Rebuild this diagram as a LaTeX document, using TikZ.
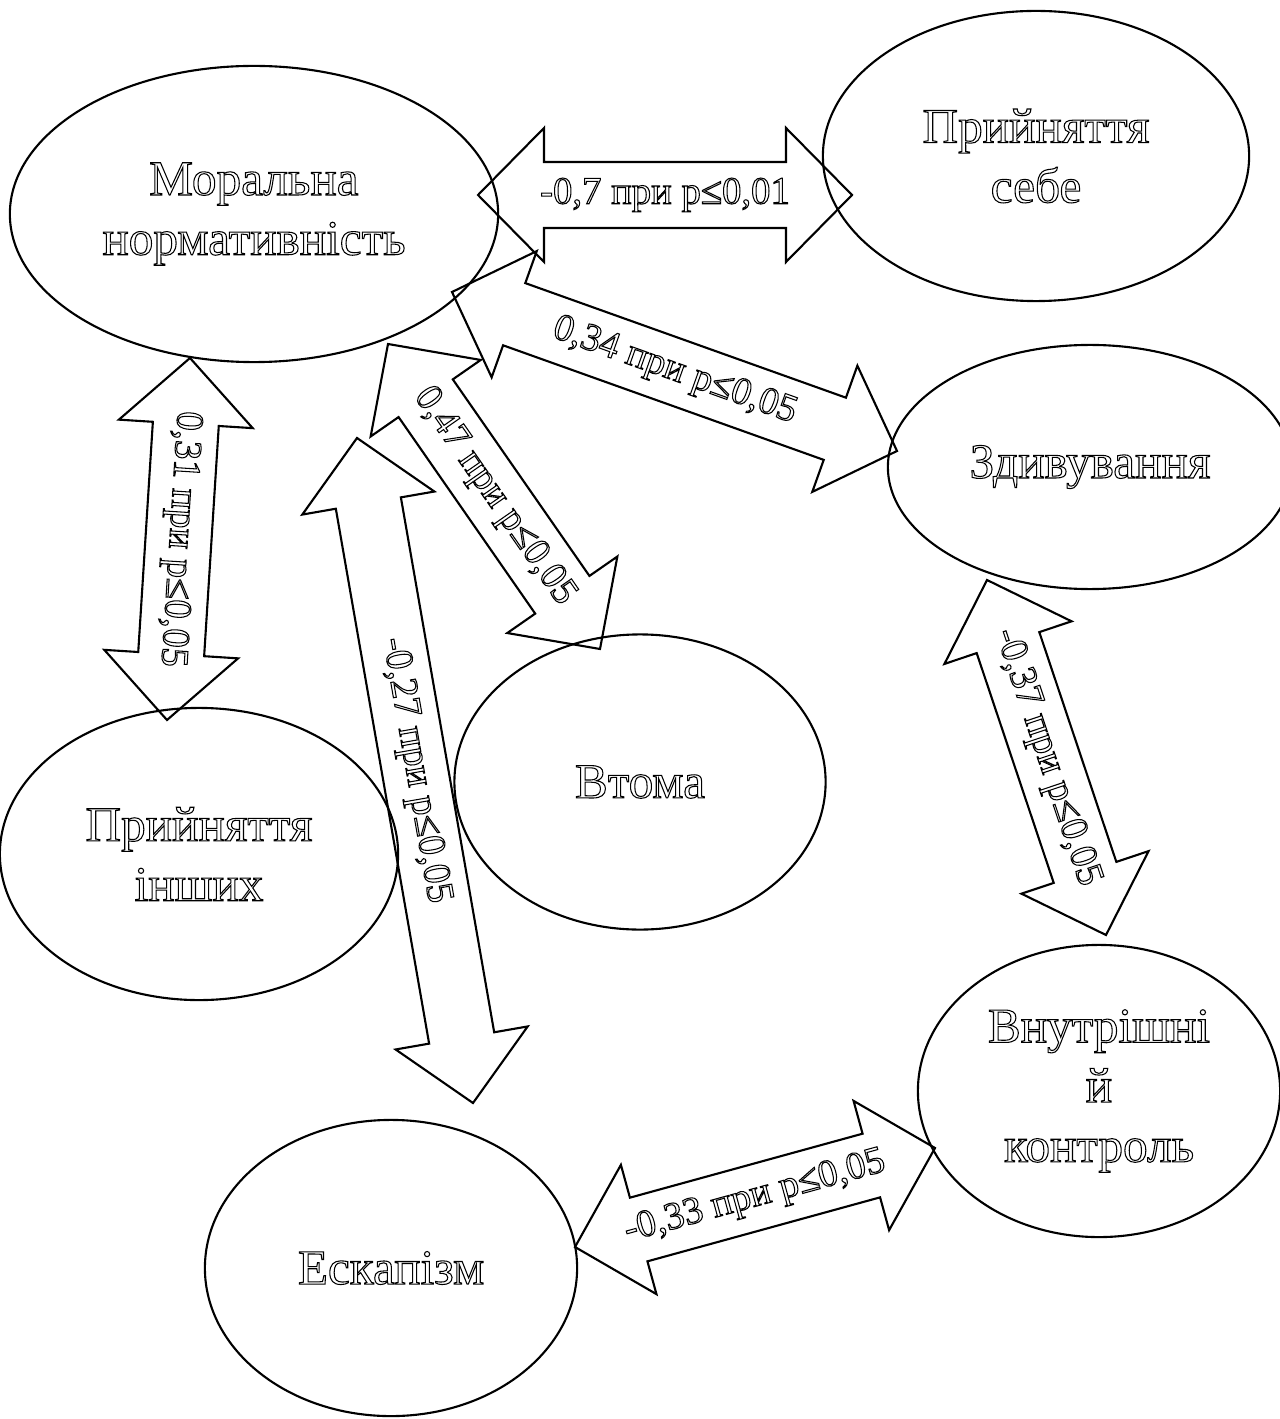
\documentclass[tikz,border=0pt]{standalone}
\usepackage{fontspec}
\setmainfont{Liberation Serif}
\usetikzlibrary{shapes.geometric, calc}

\newcommand\arrHead{0.66cm}
\newcommand\arrHalfHead{0.67cm}
\newcommand\arrHalfShaft{0.33cm}
\newcommand\corrarrow[3]{%
  \draw[blockarrow] (#1)
    -- ($(#1)!\arrHead!(#2)!\arrHalfHead!90:(#2)$)
    -- ($(#1)!\arrHead!(#2)!\arrHalfShaft!90:(#2)$)
    -- ($(#2)!\arrHead!(#1)!\arrHalfShaft!-90:(#1)$)
    -- ($(#2)!\arrHead!(#1)!\arrHalfHead!-90:(#1)$)
    -- (#2)
    -- ($(#2)!\arrHead!(#1)!\arrHalfHead!90:(#1)$)
    -- ($(#2)!\arrHead!(#1)!\arrHalfShaft!90:(#1)$)
    -- ($(#1)!\arrHead!(#2)!\arrHalfShaft!-90:(#2)$)
    -- ($(#1)!\arrHead!(#2)!\arrHalfHead!-90:(#2)$)
    -- cycle;
  \path (#1) -- node[corrlabel] {#3} (#2);
}

\begin{document}
\begin{tikzpicture}[
  x=0.01cm, y=-0.01cm,
  hollow/.style={execute at begin node={\special{pdf:literal direct 1 Tr 0.3 w}},
                 execute at end node={\special{pdf:literal direct 0 Tr}}},
  ell/.style={draw, ellipse, line width=0.6pt, inner sep=0pt, align=center,
              font=\fontsize{14}{17}\selectfont, hollow},
  blockarrow/.style={draw, line width=0.6pt, line join=miter},
  corrlabel/.style={sloped, allow upside down, inner sep=0pt,
                    font=\fontsize{11}{13}\selectfont, hollow}
]
\useasboundingbox (0,0) rectangle (1280,1419);

\node[ell, minimum width=4.88cm, minimum height=2.96cm] (moral) at (254,214) {Моральна\\нормативність};
\node[ell, minimum width=4.26cm, minimum height=2.90cm] (selfacc) at (1036,156) {Прийняття\\себе};
\node[ell, minimum width=4.04cm, minimum height=2.44cm] (surprise) at (1090,467) {Здивування};
\node[ell, minimum width=3.71cm, minimum height=2.95cm] (fatigue) at (640,782) {Втома};
\node[ell, minimum width=3.98cm, minimum height=2.92cm] (othersacc) at (199,854) {Прийняття\\інших};
\node[ell, minimum width=3.62cm, minimum height=2.92cm] (control) at (1099,1091) {Внутрішні\\й\\контроль};
\node[ell, minimum width=3.72cm, minimum height=2.96cm] (escape) at (391,1268) {Ескапізм};

\coordinate (ms1) at (478,195);  \coordinate (ms2) at (852,195);
\coordinate (mz1) at (452,292);  \coordinate (mz2) at (897,451);
\coordinate (mo1) at (190,358);  \coordinate (mo2) at (167,720);
\coordinate (mf1) at (388,344);  \coordinate (mf2) at (600,649);
\coordinate (me1) at (357,438);  \coordinate (me2) at (473,1103);
\coordinate (zc1) at (987,580);  \coordinate (zc2) at (1106,935);
\coordinate (ec1) at (575,1247); \coordinate (ec2) at (935,1148);

\corrarrow{ms1}{ms2}{-0,7 при p≤0,01}
\corrarrow{mz1}{mz2}{0,34 при p≤0,05}
\corrarrow{mo1}{mo2}{0,31 при p≤0,05}
\corrarrow{mf1}{mf2}{0,47 при p≤0,05}
\corrarrow{me1}{me2}{-0,27 при p≤0,05}
\corrarrow{zc1}{zc2}{-0,37 при p≤0,05}
\corrarrow{ec1}{ec2}{-0,33 при p≤0,05}
\end{tikzpicture}
\end{document}
